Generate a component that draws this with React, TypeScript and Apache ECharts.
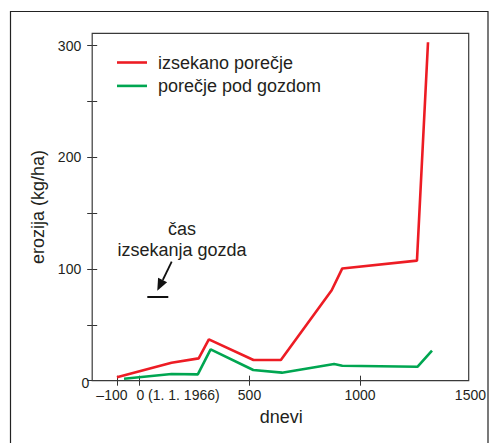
import React, { useEffect, useRef } from "react";
import * as echarts from "echarts";

const cutDays = [-100, 147, 270, 316, 518, 642, 872, 920, 1258, 1308];
const cutErosion = [3, 16, 20, 37, 18.5, 18.5, 81, 100.5, 107.5, 303];
const forestDays = [-68, 147, 266, 324, 517, 647, 883, 920, 1261, 1326];
const forestErosion = [1.8, 6, 5.7, 28, 9.6, 7.2, 15, 13.4, 12.5, 27];

const xTickValues = [-100, 0, 500, 1000];
const xLabelValues = [-100, 0, 500, 1000, 1500];
const yTickValues = [0, 50, 100, 150, 200, 250, 300];
const yLabelValues = [100, 200, 300];

const seriesNames = ["izsekano porečje", "porečje pod gozdom"];
const xName = "dnevi";
const yName = "erozija (kg/ha)";
const noteLines = ["čas", "izsekanja gozda"];

const FONT = "'Liberation Sans', Arial, Helvetica, sans-serif";
const TXT = "#231f20";
const RED = "#ed1c24";
const GREEN = "#00a651";

export default function App() {
  const ref = useRef<HTMLDivElement>(null);
  useEffect(() => {
    if (!ref.current) return;
    const chart = echarts.init(ref.current, null, { renderer: "svg" });
    const zip = (xs: number[], ys: number[]) => xs.map((x, i) => [x, ys[i]]);
    const noLine = { show: false, onZero: false };
    chart.setOption({
      animation: false,
      backgroundColor: "#ffffff",
      textStyle: { fontFamily: FONT },
      grid: { left: 92.2, right: 17.1, top: 33.3, bottom: 62.3, containLabel: false },
      legend: {
        left: 112,
        top: 47.5,
        orient: "vertical",
        icon: "rect",
        itemWidth: 30,
        itemHeight: 2.6,
        itemGap: 3.4,
        selectedMode: false,
        textStyle: { fontSize: 18, color: TXT, fontFamily: FONT, lineHeight: 20, padding: [0, 0, 0, 6] },
        data: seriesNames,
      },
      xAxis: [
        {
          type: "value",
          min: -212,
          max: 1500,
          name: xName,
          nameLocation: "middle",
          nameGap: 27,
          nameTextStyle: { fontSize: 18, color: TXT, fontFamily: FONT },
          axisLine: noLine,
          splitLine: { show: false },
          axisTick: { show: true, customValues: xTickValues, length: 5, lineStyle: { color: "#333", width: 1 } },
          axisLabel: {
            customValues: xLabelValues,
            margin: 7,
            fontSize: 14,
            color: TXT,
            fontFamily: FONT,
            formatter: (v: number) =>
              v === 0 ? "{z|0 (1. 1. 1966)}" : v < 0 ? "{m|\u2013" + Math.abs(v) + "}" : String(v),
            rich: {
              z: { fontSize: 14, color: TXT, fontFamily: FONT, padding: [0, 0, 0, 78] },
              m: { fontSize: 14, color: TXT, fontFamily: FONT, padding: [0, 10, 0, 0] },
            },
          },
        },
        {
          type: "value",
          min: -212,
          max: 1500,
          position: "bottom",
          axisLine: noLine,
          splitLine: { show: false },
          axisLabel: { show: false },
          axisTick: { show: true, inside: true, customValues: xTickValues, length: 5, lineStyle: { color: "#333", width: 1 } },
        },
      ],
      yAxis: [
        {
          type: "value",
          min: 0,
          max: 311,
          position: "left",
          name: yName,
          nameLocation: "middle",
          nameGap: 45,
          nameTextStyle: { fontSize: 18, color: TXT, fontFamily: FONT },
          axisLine: noLine,
          splitLine: { show: false },
          axisTick: { show: true, customValues: yTickValues, length: 5, lineStyle: { color: "#333", width: 1 } },
          axisLabel: { customValues: yLabelValues, margin: 11, fontSize: 14, color: TXT, fontFamily: FONT },
        },
        {
          type: "value",
          min: 0,
          max: 311,
          position: "left",
          axisLine: noLine,
          splitLine: { show: false },
          axisTick: { show: true, inside: true, customValues: yTickValues.slice(1), length: 5, lineStyle: { color: "#333", width: 1 } },
          axisLabel: {
            customValues: [0],
            margin: 3,
            fontSize: 14,
            color: TXT,
            fontFamily: FONT,
            formatter: () => "{o|0}",
            rich: { o: { fontSize: 14, color: TXT, fontFamily: FONT, padding: [5, 0, 0, 0] } },
          },
        },
      ],
      series: [
        {
          name: seriesNames[0],
          type: "line",
          symbol: "none",
          data: zip(cutDays, cutErosion),
          lineStyle: { color: RED, width: 2.6 },
          itemStyle: { color: RED },
          z: 3,
        },
        {
          name: seriesNames[1],
          type: "line",
          symbol: "none",
          data: zip(forestDays, forestErosion),
          lineStyle: { color: GREEN, width: 2.6 },
          itemStyle: { color: GREEN },
          z: 3,
        },
      ],
      graphic: [
        {
          type: "rect",
          shape: { x: 92.2, y: 33.3, width: 376.5, height: 347.4 },
          style: { fill: "none", stroke: "#3a3a3a", lineWidth: 1.2 },
          silent: true,
          z: 1,
        },
        {
          type: "rect",
          shape: { x: 10.5, y: 11.5, width: 477.5, height: 500 },
          style: { fill: "none", stroke: "#222", lineWidth: 1.2 },
          silent: true,
          z: 1,
        },
        {
          type: "text",
          x: 182,
          y: 229,
          style: { text: noteLines[0], font: `18px ${FONT}`, fill: TXT, align: "center", verticalAlign: "middle" },
        },
        {
          type: "text",
          x: 182,
          y: 250,
          style: { text: noteLines[1], font: `18px ${FONT}`, fill: TXT, align: "center", verticalAlign: "middle" },
        },
        {
          type: "line",
          shape: { x1: 171.7, y1: 261.7, x2: 162.8, y2: 280 },
          style: { stroke: "#111", lineWidth: 1.8 },
        },
        {
          type: "polygon",
          shape: { points: [[157.3, 290.7], [167.1, 282.2], [158.1, 277.8]] },
          style: { fill: "#111", stroke: "none" },
        },
        {
          type: "line",
          shape: { x1: 147.3, y1: 297, x2: 168.3, y2: 297 },
          style: { stroke: "#111", lineWidth: 2 },
        },
      ],
    });
    return () => chart.dispose();
  }, []);
  return <div ref={ref} style={{ position: "absolute", left: 0, top: 0, width: 489, height: 443 }} />;
}
